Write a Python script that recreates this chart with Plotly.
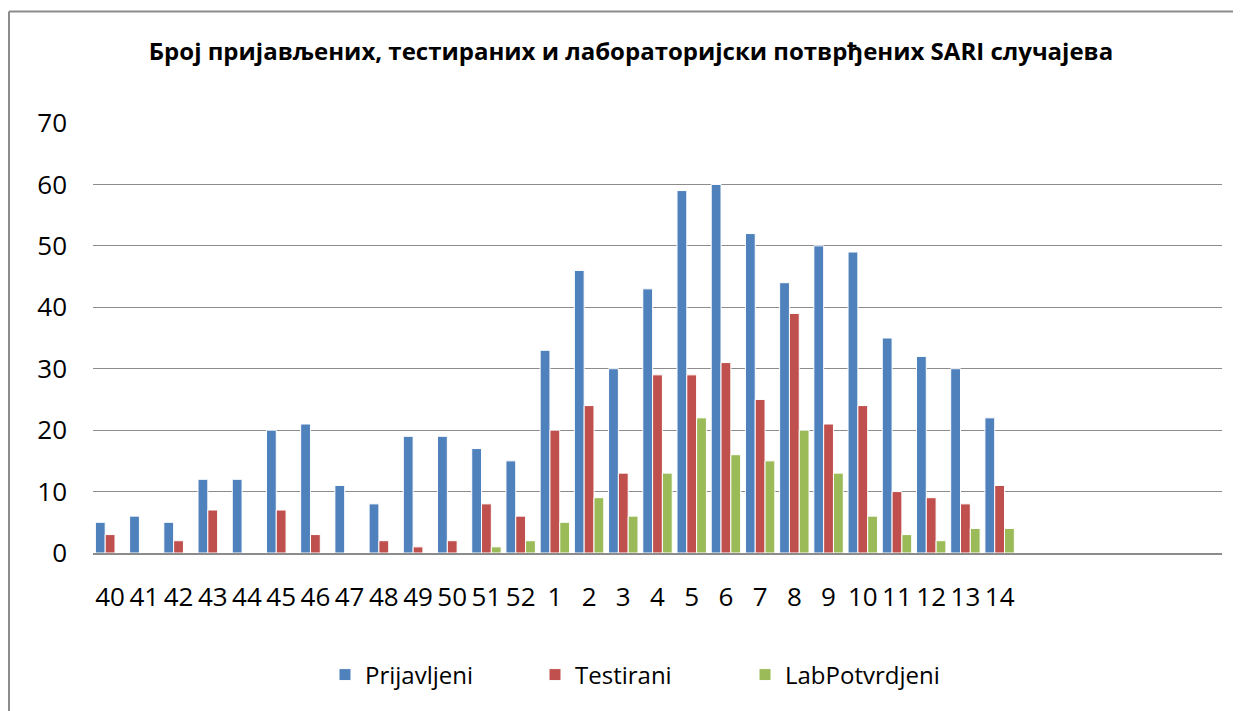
import plotly.graph_objects as go

weeks = ["40", "41", "42", "43", "44", "45", "46", "47", "48", "49", "50", "51", "52",
         "1", "2", "3", "4", "5", "6", "7", "8", "9", "10", "11", "12", "13", "14"]
prijavljeni = [5, 6, 5, 12, 12, 20, 21, 11, 8, 19, 19, 17, 15,
               33, 46, 30, 43, 59, 60, 52, 44, 50, 49, 35, 32, 30, 22]
testirani = [3, 0, 2, 7, 0, 7, 3, 0, 2, 1, 2, 8, 6,
             20, 24, 13, 29, 29, 31, 25, 39, 21, 24, 10, 9, 8, 11]
labpotvrdjeni = [0, 0, 0, 0, 0, 0, 0, 0, 0, 0, 0, 1, 2,
                 5, 9, 6, 13, 22, 16, 15, 20, 13, 6, 3, 2, 4, 4]
n_slots = 33  # axis has empty category slots after week 14
y_ticks = [0, 10, 20, 30, 40, 50, 60, 70]

FONT = "Open Sans"
pos = list(range(len(weeks)))

fig = go.Figure()
for name, vals, col in [("Prijavljeni", prijavljeni, "#4F81BD"),
                        ("Testirani", testirani, "#C0504D"),
                        ("LabPotvrdjeni", labpotvrdjeni, "#9BBB59")]:
    fig.add_trace(go.Bar(x=pos, y=vals, name=name,
                         marker=dict(color=col, line=dict(color="white", width=1))))

# page body has an 8px margin; work in screen pixels and convert
OFF = 8
W, H = 1241 - OFF, 711 - OFF
PL, PR, PT, PB = 93, 1222, 123, 553  # plot area in screen pixels
L, T = PL - OFF, PT - OFF
R, B = W - (PR - OFF), H - (PB - OFF)
pw, ph = PR - PL, PB - PT

def px(x):
    return (x - PL) / pw

def py(y):
    return (PB - y) / ph

fig.update_layout(
    width=W, height=H,
    margin=dict(l=L, r=R, t=T, b=B),
    paper_bgcolor="white", plot_bgcolor="white",
    barmode="group", bargap=0.14, bargroupgap=0,
    font=dict(family=FONT, color="black"),
    title=dict(text="<b>Број пријављених, тестираних и лабораторијски потврђених SARI случајева</b>",
               x=(631 - OFF) / W, xanchor="center", y=1 - (52 - OFF) / H, yanchor="middle",
               font=dict(family=FONT, size=24, color="black")),
    xaxis=dict(range=[-0.5, n_slots - 0.5], tickvals=pos, ticktext=weeks,
               showgrid=False, zeroline=False, showline=True,
               linecolor="#8c8c8c", linewidth=2,
               ticks="", ticklabelstandoff=20,
               tickfont=dict(family=FONT, size=26, color="black")),
    yaxis=dict(range=[0, 70], tickvals=y_ticks, showgrid=True,
               gridcolor="#8c8c8c", gridwidth=1, zeroline=False,
               showline=False, ticks="", ticklabelstandoff=25,
               tickfont=dict(family=FONT, size=26, color="black")),
    legend=dict(orientation="h", x=px(325), xanchor="left", y=py(675), yanchor="middle",
                entrywidth=165, entrywidthmode="pixels",
                font=dict(family=FONT, size=24, color="black")),
    shapes=[
        dict(type="line", xref="paper", yref="paper", x0=px(9), x1=px(1260),
             y0=py(11.5), y1=py(11.5), line=dict(color="#8c8c8c", width=2)),
        dict(type="line", xref="paper", yref="paper", x0=px(9), x1=px(9),
             y0=py(11.5), y1=py(730), line=dict(color="#8c8c8c", width=2)),
    ],
)

fig.write_html("out.html")
